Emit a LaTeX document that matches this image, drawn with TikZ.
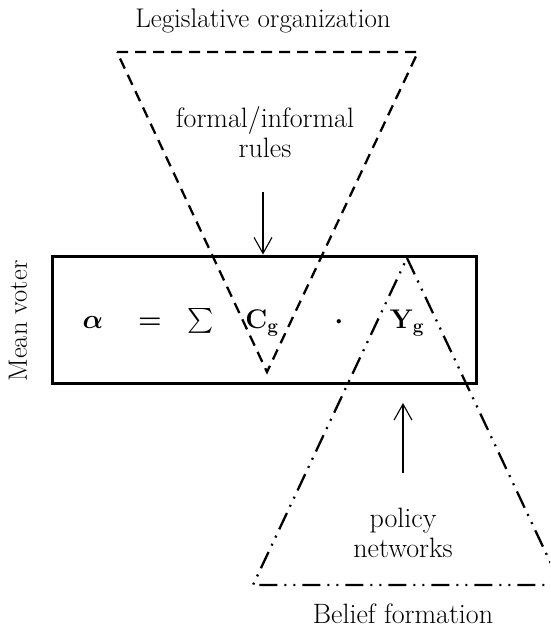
\RequirePackage{fix-cm}
\documentclass[tikz,border=0pt]{standalone}
\usepackage{amsmath,bm}
\usetikzlibrary{arrows.meta}
\tikzset{
  txt/.style={font=\fontsize{28}{30}\selectfont, inner sep=0pt, align=center},
  mth/.style={font=\fontsize{27}{31}\selectfont, inner sep=0pt, anchor=base},
  frame/.style={draw, line width=3pt, inner sep=0pt},
  legtri/.style={draw, line width=2.3pt, dash pattern=on 11pt off 7pt},
  beltri/.style={draw, line width=2.3pt, dash pattern=on 18pt off 7pt on 2pt off 7pt on 2pt off 7pt},
  flow/.style={line width=1.1pt, -{Straight Barb[length=16pt,width=18pt,line width=1.1pt]}}
}
\begin{document}
\begin{tikzpicture}[x=1pt,y=-1pt]
\useasboundingbox (0,0) rectangle (550,629);
\begin{scope}
\clip (0,0) rectangle (550,629);
% box
\node[frame, minimum width=424pt, minimum height=127pt] (box) at (264,319.5) {};
% top triangle
\coordinate (t1) at (117,52);
\coordinate (t2) at (418,52);
\coordinate (t3) at (267,372);
\draw[legtri] (t1) -- (t2) -- (t3) -- cycle;
% bottom triangle
\coordinate (b1) at (407,258);
\coordinate (b2) at (561,585);
\coordinate (b3) at (253,585);
\draw[beltri] (b1) -- (b2) -- (b3) -- cycle;
\end{scope}
% texts
\node[txt, font=\fontsize{27}{30}\selectfont] (leg) at (263,21) {Legislative organization};
\node[txt] (rules) at (265,132) {formal/informal\\rules};
\node[txt] (pol) at (403,533) {policy\\networks};
\node[txt] (bel) at (403,614) {Belief formation};
\node[txt, font=\fontsize{26.5}{30}\selectfont, rotate=90] (mv) at (18,321) {Mean voter};
% equation
\node[mth] (al) at (93,328) {$\bm{\alpha}$};
\node[mth] (eq) at (150,328) {$\bm{=}$};
\node[mth] (sm) at (201,328) {$\textstyle\sum$};
\node[mth] (cg) at (262,328) {$\mathbf{C}_{\mathbf{g}}$};
\node[mth] (dt) at (339,328) {$\bm{\cdot}$};
\node[mth] (yg) at (407,328) {$\mathbf{Y}_{\mathbf{g}}$};
% arrows
\coordinate (a1) at (263,192);
\coordinate (a2) at (403,473);
\coordinate (a2e) at (403,403);
\draw[flow] (a1) -- (a1 |- box.north);
\draw[flow] (a2) -- (a2e);
\end{tikzpicture}
\end{document}
